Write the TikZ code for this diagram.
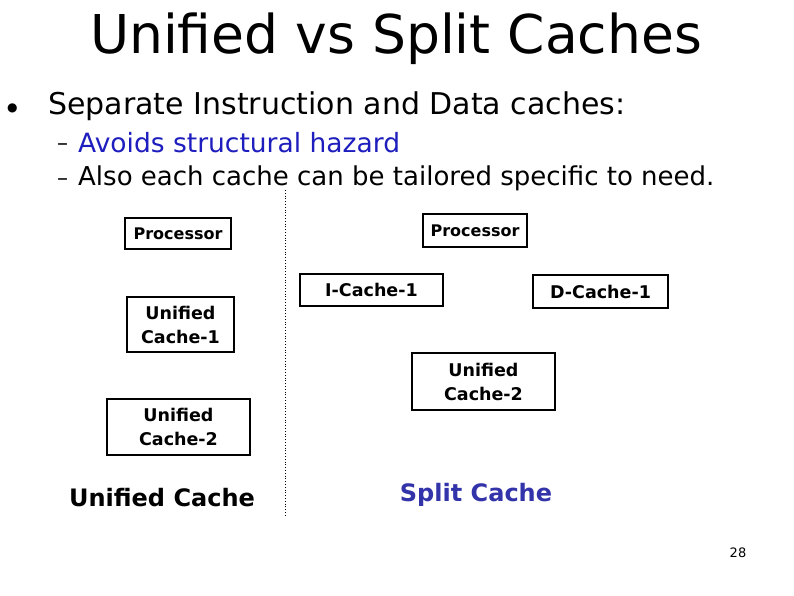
\documentclass[tikz,border=0pt]{standalone}
\usepackage{fontspec}
\setmainfont{DejaVu Sans}
\definecolor{hazblue}{RGB}{30,30,190}
\definecolor{splitblue}{RGB}{51,51,170}
\begin{document}
\begin{tikzpicture}[x=1pt,y=-1pt,
  cbox/.style={draw=black,line width=2.6pt,fill=white,inner sep=0pt,align=center,
    font=\fontsize{17.5}{24}\selectfont\bfseries},
  pbox/.style={cbox,font=\fontsize{16}{20}\selectfont\bfseries},
  txt/.style={inner sep=0pt,anchor=west}]
\useasboundingbox[fill=white] (0,0) rectangle (794,595);
% title and bullets
\node[inner sep=0pt] (title) at (396,39) {\fontsize{53.5}{60}\selectfont Unified vs Split Caches};
\node[txt] (dot) at (7,108) {\fontsize{12}{14}\selectfont ●};
\node[txt] (b1) at (48,106) {\fontsize{30}{36}\selectfont Separate Instruction and Data caches:};
\node[txt] (d1) at (57,147) {\fontsize{22}{26}\selectfont –};
\node[txt,text=hazblue] (b2) at (78,143) {\fontsize{26.5}{30}\selectfont Avoids structural hazard};
\node[txt] (d2) at (57,182) {\fontsize{22}{26}\selectfont –};
\node[txt] (b3) at (78,178) {\fontsize{26}{30}\selectfont Also each cache can be tailored specific to need.};
% divider
\coordinate (divtop) at (285,190);
\coordinate (divbot) at (285,515);
\draw[dotted,line width=0.8pt] (divtop) -- (divbot);
% left: unified
\node[pbox,minimum width=106pt,minimum height=31pt] (lproc) at (178,233.5) {Processor};
\node[cbox,minimum width=107pt,minimum height=55pt] (luc1) at (180.5,324.5) {Unified\\Cache-1};
\node[cbox,minimum width=143pt,minimum height=56pt] (luc2) at (178.5,427) {Unified\\Cache-2};
\node[inner sep=0pt] (lcap) at (162,498) {\fontsize{24}{28}\selectfont\bfseries Unified Cache};
% right: split
\node[pbox,minimum width=104pt,minimum height=33pt] (rproc) at (475,230.5) {Processor};
\node[cbox,minimum width=143pt,minimum height=32pt] (ic1) at (371.5,290) {I-Cache-1};
\node[cbox,minimum width=135pt,minimum height=33pt] (dc1) at (600.5,291.5) {D-Cache-1};
\node[cbox,minimum width=143pt,minimum height=57pt] (ruc2) at (483.5,381.5) {Unified\\Cache-2};
\node[inner sep=0pt,text=splitblue] (rcap) at (476,495) {\fontsize{24}{28}\selectfont\bfseries Split Cache};
\node[inner sep=0pt] (pnum) at (738,553) {\fontsize{13}{15}\selectfont 28};
\end{tikzpicture}
\end{document}
